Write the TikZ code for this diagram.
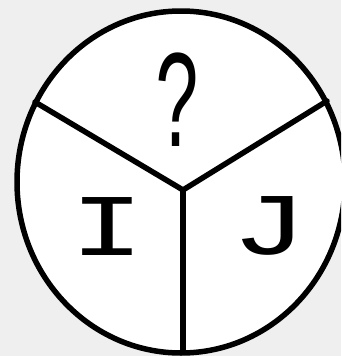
\documentclass[tikz,border=0pt]{standalone}
\usepackage{fontspec}
\newfontfamily\handfont{Liberation Mono}
\definecolor{bggray}{HTML}{EFEFEF}
\begin{document}
\begin{tikzpicture}[x=1pt,y=-1pt,
  stroke/.style={line width=5.5pt, line cap=round, line join=round},
  lbl/.style={font=\handfont, inner sep=0pt}]
\fill[bggray] (0,0) rectangle (341,356);
\useasboundingbox (0,0) rectangle (341,356);
\begin{scope}
\clip (0,0) rectangle (341,356);
\draw[stroke, fill=white] (181,182) ellipse [x radius=164, y radius=171];
\end{scope}
\coordinate (c) at (183,190);
\coordinate (l) at (35,102);
\coordinate (r) at (327,101);
\coordinate (b) at (183,352);
\draw[stroke] (l) -- (c) -- (r);
\draw[stroke] (c) -- (b);
\node[lbl, font=\handfont\fontsize{140}{140}\selectfont, xscale=0.55] (q) at (179,100) {?};
\node[lbl, font=\handfont\fontsize{88}{88}\selectfont, xscale=1.4] (i) at (107,227) {I};
\node[lbl, font=\handfont\fontsize{88}{88}\selectfont, xscale=1.45] (j) at (270,226) {J};
\end{tikzpicture}
\end{document}
